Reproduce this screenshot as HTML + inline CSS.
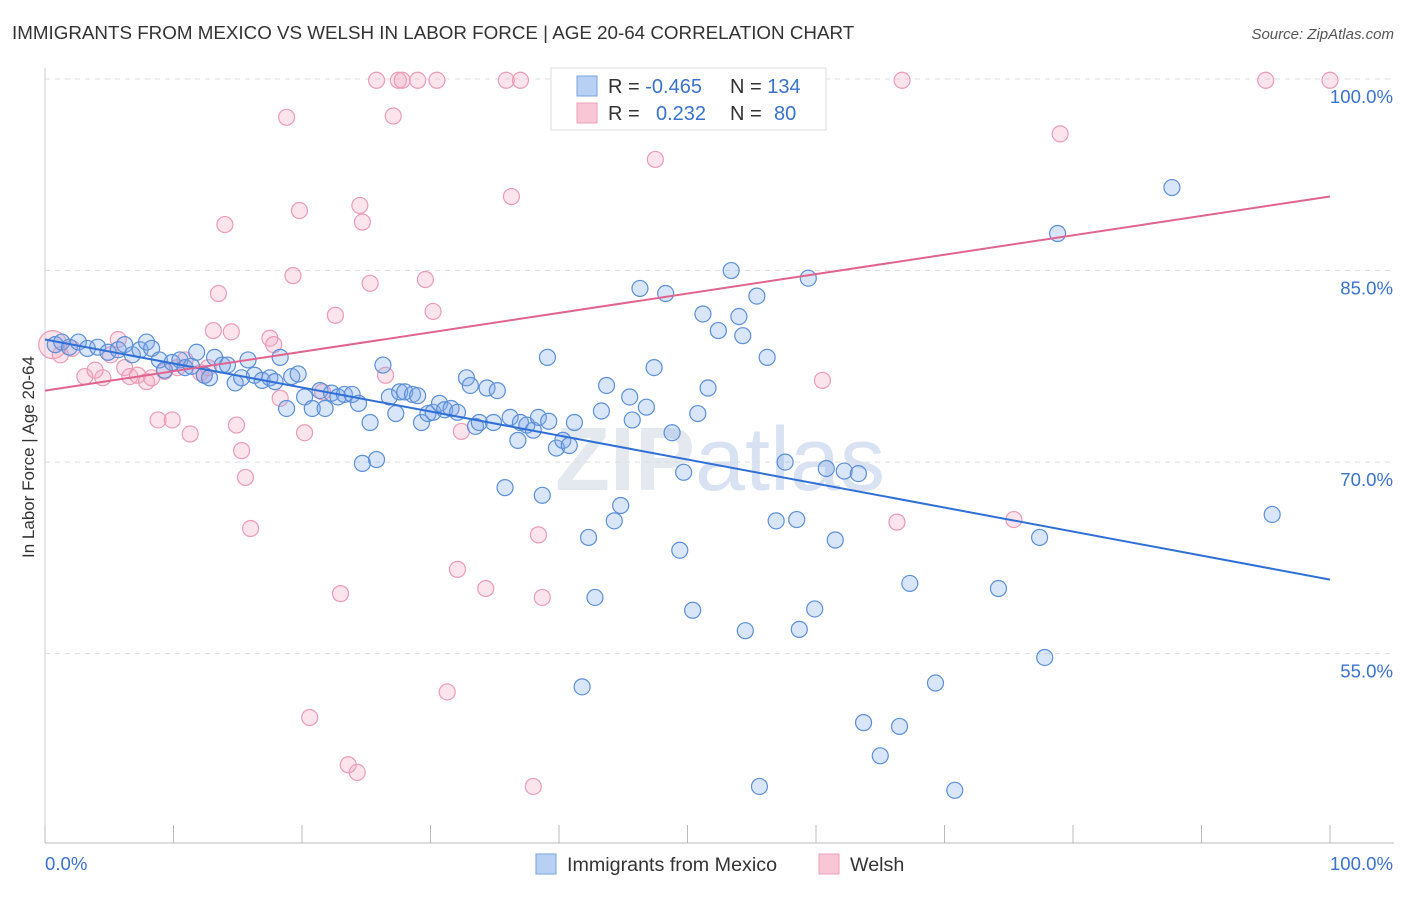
<!DOCTYPE html>
<html><head><meta charset="utf-8"><style>
body{margin:0;background:#fff;font-family:"Liberation Sans",sans-serif}
svg text{font-family:"Liberation Sans",sans-serif}
</style></head><body>
<svg id="chart" width="1406" height="892">
<text x="12" y="39" font-size="18.8" fill="#333">IMMIGRANTS FROM MEXICO VS WELSH IN LABOR FORCE | AGE 20-64 CORRELATION CHART</text>
<text x="1394" y="39" font-size="15" fill="#555" text-anchor="end" font-style="italic">Source: ZipAtlas.com</text>
<text x="720" y="490" font-size="90" fill="#e4e8ef" text-anchor="middle" font-weight="bold">ZIP<tspan font-weight="normal" fill="#d8e2f2">atlas</tspan></text>
<g id="grid"></g>
<g id="axes"></g>
<g id="pts"></g>
<g id="trends"></g>
<text transform="translate(34,457) rotate(-90)" font-size="17" fill="#333" text-anchor="middle">In Labor Force | Age 20-64</text>
<g>
<rect x="551" y="68" width="275" height="62" fill="#fff" stroke="#ddd"/>
<rect x="577" y="76" width="20" height="20" fill="#b8d0f4" stroke="#7aa3de"/>
<rect x="577" y="103" width="20" height="20" fill="#f8c6d5" stroke="#eda0b8"/>
<text x="608" y="93" font-size="20" fill="#333">R = <tspan fill="#3a72cc">-0.465</tspan></text>
<text x="730" y="93" font-size="20" fill="#333">N = <tspan fill="#3a72cc">134</tspan></text>
<text x="608" y="120" font-size="20" fill="#333">R = <tspan fill="#3a72cc" x="656">0.232</tspan></text>
<text x="730" y="120" font-size="20" fill="#333">N = <tspan fill="#3a72cc" x="774">80</tspan></text>
</g>
<g>
<rect x="536" y="854" width="20" height="20" fill="#b8d0f4" stroke="#7aa3de"/>
<text x="567" y="871" font-size="19.7" fill="#333">Immigrants from Mexico</text>
<rect x="819" y="854" width="20" height="20" fill="#f8c6d5" stroke="#eda0b8"/>
<text x="850" y="871" font-size="19.7" fill="#333">Welsh</text>
</g>
</svg>
<script>
const blueX=[0.8,1.3,1.9,2.6,3.3,4.1,4.9,5.7,6.2,6.8,7.4,7.9,8.3,8.9,9.3,9.9,10.5,10.9,11.4,11.8,12.4,12.8,13.2,13.8,14.2,14.8,15.3,15.8,16.3,16.9,17.5,17.9,18.3,18.8,19.2,19.7,20.2,20.8,21.4,21.8,22.3,22.8,23.3,23.9,24.4,24.7,25.3,25.8,26.3,26.8,27.3,27.6,28.0,28.6,29.0,29.3,29.8,30.2,30.7,31.1,31.6,32.1,32.8,33.1,33.5,33.8,34.4,34.9,35.2,35.8,36.2,36.8,37.0,37.5,38.0,38.4,38.7,39.1,39.2,39.8,40.3,40.8,41.2,42.3,42.8,43.3,43.7,44.3,44.8,45.5,45.7,46.3,46.8,47.4,48.3,48.8,49.4,49.7,50.4,50.8,51.2,51.6,52.4,53.4,54.0,54.3,54.5,55.4,55.6,56.2,56.9,57.6,58.5,58.7,59.4,59.9,60.8,61.5,62.2,63.3,63.7,65.0,66.5,67.3,69.3,70.8,74.2,77.4,77.8,78.8,87.7,95.5,41.8];
const blueY=[79.2,79.4,79.0,79.4,78.9,79.0,78.6,78.8,79.2,78.4,78.8,79.4,78.9,78.0,77.2,77.8,78.0,77.4,77.5,78.6,76.8,76.6,78.2,77.6,77.6,76.2,76.6,78.0,76.8,76.4,76.6,76.3,78.2,74.2,76.7,76.9,75.1,74.2,75.6,74.2,75.4,75.1,75.3,75.3,74.6,69.9,73.1,70.2,77.6,75.1,73.8,75.5,75.5,75.3,75.2,73.1,73.8,73.9,74.6,74.1,74.2,73.9,76.6,76.0,72.8,73.1,75.8,73.1,75.6,68.0,73.5,71.7,73.1,72.9,72.5,73.5,67.4,78.2,73.2,71.1,71.7,71.3,73.1,64.1,59.4,74.0,76.0,65.4,66.6,75.1,73.3,83.6,74.3,77.4,83.2,72.3,63.1,69.2,58.4,73.8,81.6,75.8,80.3,85.0,81.4,79.9,56.8,83.0,44.6,78.2,65.4,70.0,65.5,56.9,84.4,58.5,69.5,63.9,69.3,69.1,49.6,47.0,49.3,60.5,52.7,44.3,60.1,64.1,54.7,87.9,91.5,65.9,52.4];
const pinkX=[0.6,1.2,2.1,3.1,3.9,4.5,5.1,5.7,6.2,6.6,7.2,7.9,8.3,8.8,9.3,9.9,10.3,10.9,11.3,12.1,12.4,12.7,13.1,13.5,14.0,14.5,14.9,15.3,15.6,16.0,17.5,17.8,18.3,18.8,19.3,19.8,20.2,20.6,21.6,22.6,23.0,23.6,24.3,24.5,24.7,25.3,25.8,26.5,27.1,27.5,27.8,29.0,29.6,30.2,30.5,31.3,32.4,32.1,34.3,35.9,36.3,37.0,38.0,38.4,38.7,40.9,47.5,47.5,60.5,66.3,66.7,75.4,79.0,95.0,100];
const pinkY=[79.2,78.4,78.9,76.7,77.2,76.6,78.4,79.6,77.4,76.7,76.8,76.3,76.6,73.3,77.1,73.3,77.4,78.0,72.2,77.0,76.8,77.4,80.3,83.2,88.6,80.2,72.9,70.9,68.8,64.8,79.7,79.2,75.0,97.0,84.6,89.7,72.3,50.0,75.5,81.5,59.7,46.3,45.7,90.1,88.8,84.0,99.9,76.8,97.1,99.9,99.9,99.9,84.3,81.8,99.9,52.0,72.4,61.6,60.1,99.9,90.8,99.9,44.6,64.3,59.4,99.9,93.7,99.9,76.4,65.3,99.9,65.5,95.7,99.9,99.9];
const blueTrend=[79.6,60.8];
const pinkTrend=[75.6,90.8];
const yTicks=[100,85,70,55];
const xTicks=[0,10,20,30,40,50,60,70,80,90,100];
const NS="http://www.w3.org/2000/svg";
const X=v=>45+v*12.85, Y=v=>79+(100-v)*12.77;
function mk(tag,attrs,parent){const e=document.createElementNS(NS,tag);for(const k in attrs)e.setAttribute(k,attrs[k]);parent.appendChild(e);return e;}
const grid=document.getElementById('grid'),axes=document.getElementById('axes'),pts=document.getElementById('pts'),tr=document.getElementById('trends');
yTicks.forEach(t=>{const l=mk('line',{x1:45,x2:1394,y1:Y(t),y2:Y(t),stroke:'#ddd','stroke-dasharray':'5,5'},grid);


const tx=mk('text',{x:1393,y:Y(t)+24,'font-size':18.6,fill:'#3a72cc','text-anchor':'end'},axes);tx.textContent=t.toFixed(1)+'%';

});
const ax=mk('line',{x1:45,x2:1394,y1:843,y2:843,stroke:'#bbb'},axes);


const ay=mk('line',{x1:45,x2:45,y1:68,y2:843,stroke:'#ccc'},axes);


xTicks.forEach(t=>{const l=mk('line',{x1:X(t),x2:X(t),y1:825,y2:843,stroke:'#bbb'},axes);

});
[[0,'start',45],[100,'end',1393]].forEach(([t,a,x])=>{const tx=mk('text',{x:x,y:870,'font-size':18.6,fill:'#3a72cc','text-anchor':a},axes);tx.textContent=t.toFixed(1)+'%';

});
pinkX.forEach((v,i)=>{const c=mk('circle',{cx:X(v),cy:Y(pinkY[i]),r:i==0?14:8,fill:'rgba(244,166,192,0.3)',stroke:'#eb9bb5','stroke-width':1.2},pts);

});
blueX.forEach((v,i)=>{const c=mk('circle',{cx:X(v),cy:Y(blueY[i]),r:8,fill:'rgba(130,170,235,0.3)',stroke:'#5b8fd6','stroke-width':1.2},pts);

});
const bl=mk('line',{x1:X(0),x2:X(100),y1:Y(blueTrend[0]),y2:Y(blueTrend[1]),stroke:'#2f6fd6','stroke-width':2},tr);


const pl=mk('line',{x1:X(0),x2:X(100),y1:Y(pinkTrend[0]),y2:Y(pinkTrend[1]),stroke:'#e0648f','stroke-width':2},tr);


</script>
</body></html>
